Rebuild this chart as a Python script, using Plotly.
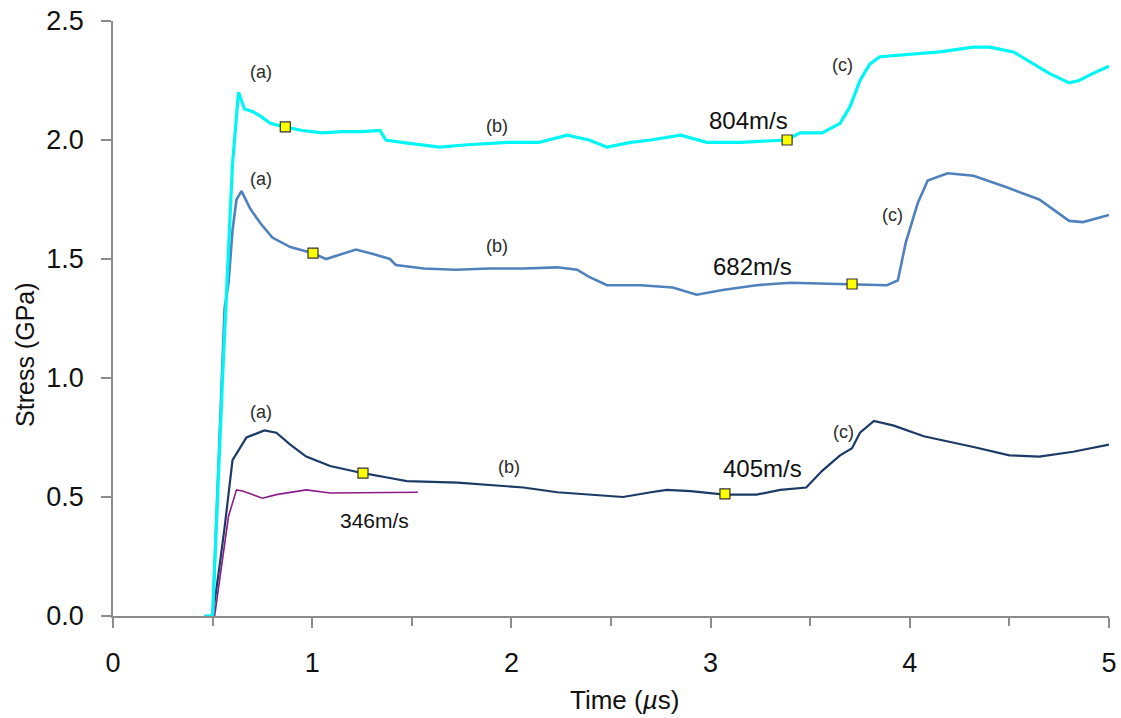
import plotly.graph_objects as go

# ---- data (time in microseconds, stress in GPa) ----
v804_t = [0.46, 0.50, 0.55, 0.60, 0.63, 0.66, 0.70, 0.74, 0.79, 0.86, 0.95, 1.05, 1.15, 1.25, 1.34,
          1.37, 1.45, 1.55, 1.64, 1.78, 1.90, 1.98, 2.14, 2.28, 2.39, 2.48, 2.60, 2.70, 2.85, 2.98,
          3.15, 3.38, 3.45, 3.56, 3.65, 3.70, 3.75, 3.80, 3.85, 3.98, 4.15, 4.32, 4.40, 4.52, 4.62,
          4.70, 4.80, 4.85, 4.92, 5.00]
v804_s = [0.0, 0.0, 1.00, 1.90, 2.20, 2.13, 2.12, 2.10, 2.07, 2.055, 2.04, 2.03, 2.035, 2.035, 2.04,
          2.00, 1.99, 1.98, 1.97, 1.98, 1.985, 1.99, 1.99, 2.02, 2.00, 1.97, 1.99, 2.00, 2.02, 1.99,
          1.99, 2.00, 2.03, 2.03, 2.07, 2.14, 2.25, 2.32, 2.35, 2.36, 2.37, 2.39, 2.39, 2.37, 2.32,
          2.28, 2.24, 2.25, 2.28, 2.31]

v682_t = [0.46, 0.50, 0.56, 0.58, 0.60, 0.62, 0.645, 0.69, 0.74, 0.80, 0.89, 1.00, 1.07, 1.14, 1.22,
          1.31, 1.39, 1.42, 1.56, 1.72, 1.89, 2.06, 2.23, 2.33, 2.39, 2.48, 2.65, 2.81, 2.93, 3.06,
          3.23, 3.40, 3.71, 3.885, 3.94, 3.98, 4.04, 4.09, 4.19, 4.32, 4.49, 4.65, 4.80, 4.87, 5.00]
v682_s = [0.0, 0.0, 1.29, 1.40, 1.62, 1.75, 1.785, 1.71, 1.65, 1.59, 1.55, 1.525, 1.50, 1.52, 1.54,
          1.52, 1.50, 1.475, 1.46, 1.455, 1.46, 1.46, 1.465, 1.455, 1.425, 1.39, 1.39, 1.38, 1.35, 1.37,
          1.39, 1.40, 1.395, 1.39, 1.41, 1.57, 1.735, 1.83, 1.86, 1.85, 1.80, 1.75, 1.66, 1.655, 1.685]

v405_t = [0.46, 0.50, 0.53, 0.56, 0.60, 0.67, 0.76, 0.82, 0.89, 0.97, 1.09, 1.255, 1.39, 1.475, 1.73,
          1.89, 2.06, 2.23, 2.39, 2.56, 2.70, 2.78, 2.90, 3.07, 3.23, 3.35, 3.48, 3.56, 3.65, 3.71,
          3.75, 3.82, 3.92, 4.07, 4.32, 4.50, 4.65, 4.82, 5.00]
v405_s = [0.0, 0.0, 0.18, 0.37, 0.655, 0.75, 0.78, 0.77, 0.72, 0.67, 0.63, 0.60, 0.58, 0.567, 0.56,
          0.55, 0.54, 0.52, 0.51, 0.50, 0.52, 0.53, 0.525, 0.51, 0.51, 0.53, 0.54, 0.61, 0.675, 0.705,
          0.77, 0.82, 0.80, 0.755, 0.71, 0.675, 0.67, 0.69, 0.72]

v346_t = [0.51, 0.55, 0.58, 0.62, 0.65, 0.70, 0.75, 0.82, 0.90, 0.97, 1.09, 1.255, 1.39, 1.53]
v346_s = [0.0, 0.25, 0.42, 0.53, 0.525, 0.51, 0.495, 0.51, 0.52, 0.53, 0.517, 0.517, 0.517, 0.52]

marker_t = [0.865, 3.384, 1.004, 3.71, 1.255, 3.072]
marker_s = [2.055, 2.00, 1.525, 1.395, 0.60, 0.513]

velocity_labels = ["804m/s", "682m/s", "405m/s", "346m/s"]
velocity_label_t = [3.19, 3.21, 3.26, 1.315]
velocity_label_s = [2.084, 1.47, 0.62, 0.403]

stage_labels = ["(a)", "(b)", "(c)", "(a)", "(b)", "(c)", "(a)", "(b)", "(c)"]
stage_label_t = [0.745, 1.93, 3.66, 0.745, 1.93, 3.915, 0.745, 1.99, 3.665]
stage_label_s = [2.285, 2.06, 2.315, 1.836, 1.555, 1.685, 0.857, 0.626, 0.773]

x_ticks = [0, 1, 2, 3, 4, 5]
y_ticks = [0.0, 0.5, 1.0, 1.5, 2.0, 2.5]

FONT = "Liberation Sans, Arial, sans-serif"

fig = go.Figure()
fig.add_trace(go.Scatter(x=v346_t, y=v346_s, mode="lines", line=dict(color="#8B1A8B", width=1.6),
                         name="346m/s"))
fig.add_trace(go.Scatter(x=v405_t, y=v405_s, mode="lines", line=dict(color="#1B3A66", width=2.2),
                         name="405m/s"))
fig.add_trace(go.Scatter(x=v682_t, y=v682_s, mode="lines", line=dict(color="#4F81BD", width=2.6),
                         name="682m/s"))
fig.add_trace(go.Scatter(x=v804_t, y=v804_s, mode="lines", line=dict(color="#00F5F5", width=3.2),
                         name="804m/s"))
fig.add_trace(go.Scatter(x=marker_t, y=marker_s, mode="markers",
                         marker=dict(symbol="square", size=10, color="#FFFF00",
                                     line=dict(color="#333333", width=1.2)),
                         name="markers"))

for txt, xt, ys in zip(velocity_labels, velocity_label_t, velocity_label_s):
    fig.add_annotation(x=xt, y=ys, text=txt, showarrow=False, xanchor="center", yanchor="middle",
                       font=dict(family=FONT, size=21 if txt == "346m/s" else 24, color="#111111"))
for txt, xt, ys in zip(stage_labels, stage_label_t, stage_label_s):
    fig.add_annotation(x=xt, y=ys, text=txt, showarrow=False, xanchor="center", yanchor="middle",
                       font=dict(family=FONT, size=18, color="#2a2a2a"))

# axis titles placed as annotations (paper coordinates)
fig.add_annotation(xref="paper", yref="paper", x=-0.0884, y=0.4387, text="Stress (GPa)",
                   textangle=-90, showarrow=False, xanchor="center", yanchor="middle",
                   font=dict(family=FONT, size=25, color="#111111"))
fig.add_annotation(xref="paper", yref="paper", x=0.514, y=-0.141, text="Time (<i>µ</i>s)",
                   showarrow=False, xanchor="center", yanchor="middle",
                   font=dict(family=FONT, size=26, color="#111111"))

axis_common = dict(showgrid=False, zeroline=False, showline=True, linecolor="#8c8c8c", linewidth=1.5,
                   ticks="outside", tickcolor="#8c8c8c", tickwidth=1.5, ticklen=10, automargin=False,
                   ticklabeloverflow="allow",
                   tickfont=dict(family=FONT, size=27, color="#111111"))

fig.update_xaxes(range=[0, 5], tickvals=x_ticks, ticktext=[str(v) for v in x_ticks],
                 minor=dict(dtick=0.5, ticks="outside", ticklen=8, tickcolor="#8c8c8c", tickwidth=1.5),
                 ticklabelstandoff=12,
                 **axis_common)
fig.update_yaxes(range=[0, 2.5], tickvals=y_ticks, ticktext=[f"{v:.1f}" for v in y_ticks],
                 ticklabelstandoff=12,
                 **axis_common)

fig.update_layout(width=1121, height=718, margin=dict(l=113, r=12, t=21, b=102),
                  plot_bgcolor="white", paper_bgcolor="white", showlegend=False)

fig.write_html("out.html", config={"displayModeBar": False},
               post_script="document.body.style.margin='0px';document.body.style.overflow='hidden';")
